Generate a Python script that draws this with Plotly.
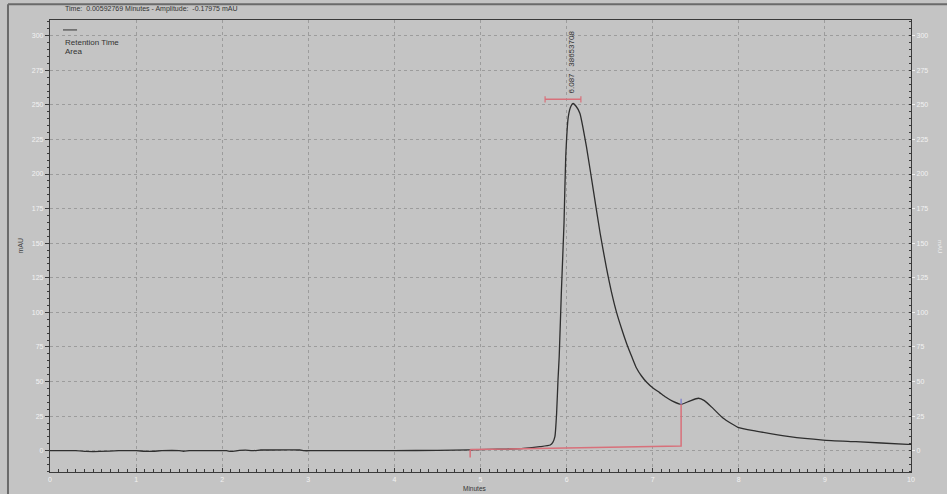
import plotly.graph_objects as go

# ---- data ----
time_min = [0, 0.3, 0.42, 0.5, 0.58, 0.8, 1.0, 1.1, 1.2, 1.3, 1.5, 1.55, 1.62, 1.8, 2.05, 2.1,
            2.2, 2.27, 2.35, 2.45, 2.5, 2.9, 2.95, 3.05, 3.5, 4.0, 4.5, 4.88, 5.1, 5.3, 5.5,
            5.69, 5.81, 5.84, 5.864, 5.884, 5.90, 5.914, 5.94, 5.97, 5.99, 6.02, 6.05, 6.076,
            6.11, 6.154, 6.23, 6.31, 6.39, 6.46, 6.52, 6.58, 6.64, 6.70, 6.76, 6.81, 6.87,
            6.93, 7.0, 7.08, 7.15, 7.23, 7.33,
            7.43, 7.53, 7.60, 7.70, 7.82, 7.99, 8.20, 8.59, 8.98, 9.36, 9.96, 10.0]
signal_mau = [0, 0, -0.5, -0.6, -0.5, 0, 0, -0.4, -0.4, 0, 0, -0.4, 0, 0, 0, -0.5,
              0.2, 0.4, 0, 0.5, 0.5, 0.5, 0, 0, 0, 0, 0.3, 0.6, 0.9, 1.2, 1.7,
              2.9, 4.1, 6, 10.1, 27, 51, 68, 116, 164.6, 212.6, 241.5, 249, 251,
              249, 244, 220, 188.5, 157, 133, 115, 100, 88, 77, 67.5, 60, 54,
              49.5, 45.5, 42, 38.8, 35.8, 33.5,
              35.9, 37.9, 36.2, 30.6, 23.4, 16.9, 14.2, 10.1, 7.7, 6.5, 4.6, 4.5]

# integration baseline (red)
base_t = [4.88, 7.33, 7.33]
base_v = [0.8, 3.4, 33.5]
start_tick_t = [4.88, 4.88]
start_tick_v = [0.8, -5]
end_tick_t = [7.33, 7.33]
end_tick_v = [33.5, 37.5]

# peak retention-time marker
peak_rt = 6.087
peak_area = "38653708"
peak_win = [5.75, 6.166]
peak_bar_v = 254

x_ticks = list(range(0, 11))
y_ticks = list(range(0, 301, 25))

BG = "#c4c4c4"
GRID = "#9c9c9c"
AX = "#3a3a3a"
RED = "#d8707a"
TICKFONT = dict(family="Liberation Sans, Arial", size=7, color="#f2f2f2")

fig = go.Figure()
fig.add_trace(go.Scatter(x=time_min, y=signal_mau, mode="lines",
                         line=dict(color="#2e2e2e", width=1.3, shape="spline", smoothing=0.5),
                         showlegend=False, hoverinfo="skip"))
fig.add_trace(go.Scatter(x=base_t, y=base_v, mode="lines",
                         line=dict(color=RED, width=1.5), showlegend=False, hoverinfo="skip"))
fig.add_trace(go.Scatter(x=start_tick_t, y=start_tick_v, mode="lines",
                         line=dict(color=RED, width=1.5), showlegend=False, hoverinfo="skip"))
fig.add_trace(go.Scatter(x=end_tick_t, y=end_tick_v, mode="lines",
                         line=dict(color="#8888cc", width=1.5), showlegend=False, hoverinfo="skip"))
# peak window bar with end caps
fig.add_trace(go.Scatter(x=[peak_win[0], peak_win[1]], y=[peak_bar_v, peak_bar_v], mode="lines",
                         line=dict(color=RED, width=1.5), showlegend=False, hoverinfo="skip"))
for xw in peak_win:
    fig.add_trace(go.Scatter(x=[xw, xw], y=[peak_bar_v - 2.2, peak_bar_v + 2.2], mode="lines",
                             line=dict(color=RED, width=1.2), showlegend=False, hoverinfo="skip"))
# right axis dummy trace
fig.add_trace(go.Scatter(x=[0], y=[0], yaxis="y2", mode="markers", marker=dict(opacity=0),
                         showlegend=False, hoverinfo="skip"))

yr = [-15.4, 311.35]
fig.update_layout(
    width=947, height=494,
    margin=dict(l=50, r=36, t=20, b=22),
    paper_bgcolor=BG, plot_bgcolor=BG,
    xaxis=dict(range=[0, 10], tickvals=x_ticks, showgrid=True, gridcolor=GRID, griddash="dot",
               gridwidth=1, zeroline=False, showline=True, linecolor=AX, linewidth=1.2,
               mirror=True, ticks="inside", ticklen=4, tickcolor=AX, tickfont=TICKFONT,
               minor=dict(dtick=0.1, ticks="inside", ticklen=3, tickcolor=AX, showgrid=False)),
    yaxis=dict(range=yr, tickvals=y_ticks, showgrid=True, gridcolor=GRID, griddash="dot",
               gridwidth=1, zeroline=False, showline=True, linecolor=AX, linewidth=1.2,
               ticks="outside", ticklen=4, tickcolor=AX, tickfont=TICKFONT,
               minor=dict(dtick=5, ticks="outside", ticklen=2, tickcolor=AX, showgrid=False)),
    yaxis2=dict(range=yr, tickvals=y_ticks, overlaying="y", side="right", showgrid=False,
                zeroline=False, showline=True, linecolor=AX, linewidth=1.2,
                ticks="outside", ticklen=3, tickcolor="#f2f2f2", tickfont=TICKFONT,
                minor=dict(dtick=5, ticks="inside", ticklen=2, tickcolor=AX)),
)

# outer frame
fig.add_shape(type="line", xref="paper", yref="paper", x0=-0.0488, x1=1.1, y0=1.035, y1=1.035,
              line=dict(color="#6a6a6a", width=2))
fig.add_shape(type="line", xref="paper", yref="paper", x0=-0.0488, x1=-0.0488, y0=-0.1, y1=1.035,
              line=dict(color="#6a6a6a", width=2))

fig.add_annotation(text="Time:  0.00592769 Minutes - Amplitude:  -0.17975 mAU", xref="paper",
                   yref="paper", x=0.0151, y=1.024, xanchor="left", yanchor="middle",
                   showarrow=False, font=dict(family="Liberation Sans, Arial", size=7, color="#333"))
# legend-like block
fig.add_shape(type="line", xref="paper", yref="paper", x0=0.0151, x1=0.0314, y0=0.978, y1=0.978,
              line=dict(color="#333", width=1))
fig.add_annotation(text="Retention Time", xref="paper", yref="paper", x=0.0151, y=0.951,
                   xanchor="left", yanchor="middle", showarrow=False,
                   font=dict(family="Liberation Sans, Arial", size=8, color="#333"))
fig.add_annotation(text="Area", xref="paper", yref="paper", x=0.0151, y=0.931,
                   xanchor="left", yanchor="middle", showarrow=False,
                   font=dict(family="Liberation Sans, Arial", size=8, color="#333"))
# peak label
fig.add_annotation(text=f"{peak_rt}   {peak_area}", x=6.06, y=257, xanchor="center",
                   yanchor="bottom", textangle=-90, showarrow=False,
                   font=dict(family="Liberation Sans, Arial", size=8, color="#333"))
# axis titles
fig.add_annotation(text="mAU", xref="paper", yref="paper", x=-0.0418, y=0.5, textangle=-90,
                   showarrow=False, font=dict(family="Liberation Sans, Arial", size=7, color="#444"))
fig.add_annotation(text="mAU", xref="paper", yref="paper", x=1.0395, y=0.5, textangle=90,
                   showarrow=False, font=dict(family="Liberation Sans, Arial", size=6, color="#eeeeee"))
fig.add_annotation(text="Minutes", xref="paper", yref="paper", x=0.4932, y=-0.0354,
                   yanchor="middle", showarrow=False,
                   font=dict(family="Liberation Sans, Arial", size=6.5, color="#333"))

fig.write_html("out.html", config={"displayModeBar": False},
               post_script="document.body.style.margin='0px';document.body.style.background='#c4c4c4';")
